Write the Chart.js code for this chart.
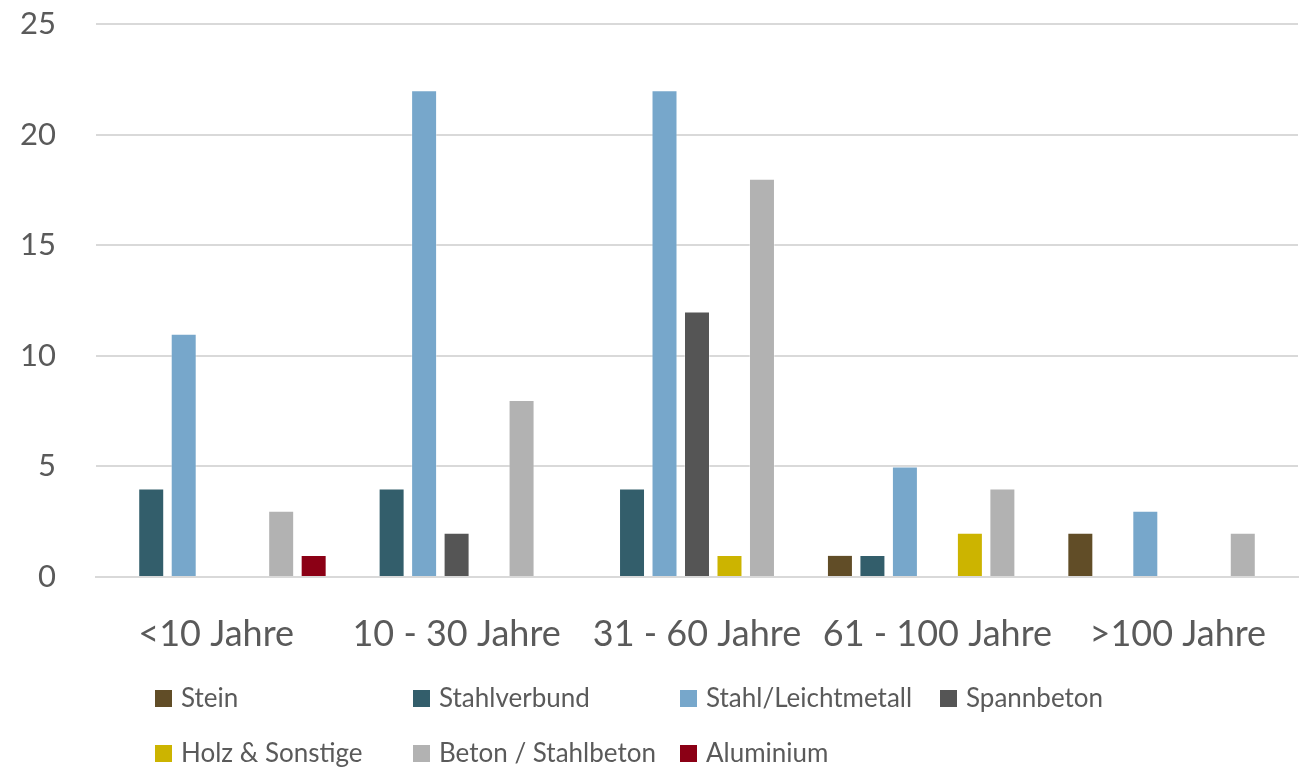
<!DOCTYPE html>
<html lang="de">
<head>
<meta charset="utf-8">
<title>Brücken nach Alter und Bauweise</title>
<script src="https://cdn.jsdelivr.net/npm/chart.js@4.4.1/dist/chart.umd.min.js"></script>
<style>
  html, body { margin: 0; padding: 0; background: #fff; }
  #wrap { width: 1306px; height: 772px; position: relative; }
</style>
</head>
<body>
<div id="wrap"><canvas id="alterChart"></canvas></div>
<script>
// Altersklassen und Anzahl je Bauweise
const kategorien = ['<10 Jahre', '10 - 30 Jahre', '31 - 60 Jahre', '61 - 100 Jahre', '>100 Jahre'];
const stein          = [0, 0, 0, 1, 2];
const stahlverbund   = [4, 4, 4, 1, 0];
const stahlLeicht    = [11, 22, 22, 5, 3];
const spannbeton     = [0, 2, 12, 0, 0];
const holzSonstige   = [0, 0, 1, 2, 0];
const betonStahl     = [3, 8, 18, 4, 2];
const aluminium      = [1, 0, 0, 0, 0];
const yTicks = [0, 5, 10, 15, 20, 25];

const textFarbe = '#5a5a5a';
const schrift = 'Lato, "Open Sans", sans-serif';

function reihe(label, data, farbe) {
    return {
        label: label,
        data: data,
        backgroundColor: farbe,
        borderColor: 'rgba(255,255,255,0.35)',
        borderWidth: 1,
        barPercentage: 0.8,
        categoryPercentage: 0.946
    };
}

// Legende im Raster (4 Spalten, 2 Zeilen) unter dem Diagramm
const rasterLegende = {
    id: 'rasterLegende',
    afterDraw(chart) {
        const ctx = chart.ctx;
        const spalten = [155, 413, 680, 940];
        const zeilen = [698, 753];
        ctx.save();
        ctx.font = '26px ' + schrift;
        ctx.textBaseline = 'middle';
        chart.data.datasets.forEach((ds, i) => {
            const x = spalten[i % 4];
            const y = zeilen[Math.floor(i / 4)];
            ctx.fillStyle = ds.backgroundColor;
            ctx.fillRect(x, y - 8, 17, 17);
            ctx.fillStyle = textFarbe;
            ctx.fillText(ds.label, x + 26, y + 1);
        });
        ctx.restore();
    }
};

const ctx = document.getElementById('alterChart').getContext('2d');
const alterChart = new Chart(ctx, {
    type: 'bar',
    data: {
        labels: kategorien,
        datasets: [
            reihe('Stein', stein, '#614D27'),
            reihe('Stahlverbund', stahlverbund, '#335E6B'),
            reihe('Stahl/Leichtmetall', stahlLeicht, '#77A7CB'),
            reihe('Spannbeton', spannbeton, '#555555'),
            reihe('Holz & Sonstige', holzSonstige, '#CCB400'),
            reihe('Beton / Stahlbeton', betonStahl, '#B2B2B2'),
            reihe('Aluminium', aluminium, '#8B0015')
        ]
    },
    options: {
        responsive: true,
        maintainAspectRatio: false,
        animation: false,
        layout: { padding: { top: 24, right: 8, bottom: 115, left: 0 } },
        plugins: {
            legend: { display: false },
            tooltip: { enabled: false }
        },
        scales: {
            x: {
                grid: { display: false },
                border: { display: true, color: '#D9D9D9', width: 2 },
                ticks: {
                    color: textFarbe,
                    font: { family: schrift, size: 36 },
                    padding: 28,
                    maxRotation: 0
                },
                afterFit: s => { s.height = 80; }
            },
            y: {
                min: 0,
                max: 25,
                afterBuildTicks: s => { s.ticks = yTicks.map(v => ({ value: v })); },
                grid: { color: '#D9D9D9', lineWidth: 2, drawTicks: false },
                border: { display: false },
                ticks: {
                    color: textFarbe,
                    font: { family: schrift, size: 31 },
                    padding: 40
                },
                // feste Achsenbreite; Tick-Abstand soll den Plotbereich oben nicht verschieben
                afterFit: s => {
                    s.width = 96;
                    s.paddingTop = 10;
                    s.paddingBottom = 10;
                }
            }
        }
    },
    plugins: [rasterLegende]
});
</script>
</body>
</html>
